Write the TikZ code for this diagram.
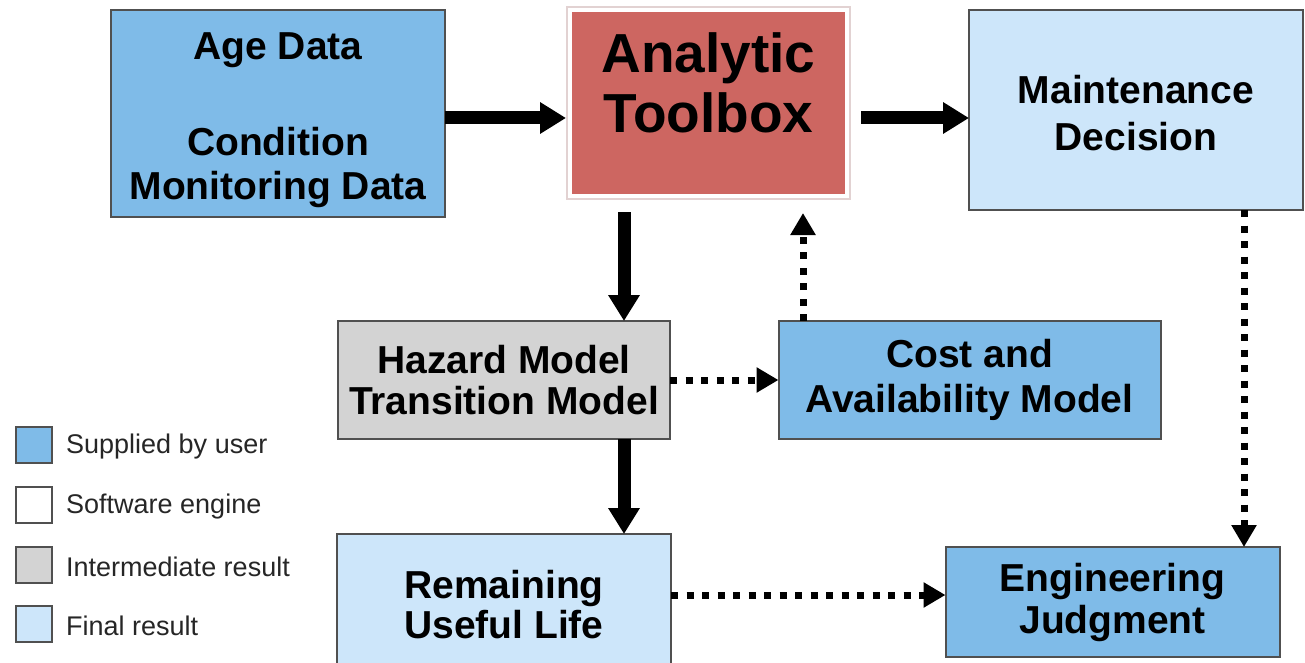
\documentclass[tikz,border=0pt]{standalone}
\usepackage{fontspec}
\setmainfont{Liberation Sans}
\usetikzlibrary{arrows.meta}

\definecolor{userblue}{HTML}{7FBBE8}
\definecolor{finalblue}{HTML}{CDE6FA}
\definecolor{midgray}{HTML}{D3D3D3}
\definecolor{toolred}{HTML}{CD6661}
\definecolor{edgegray}{HTML}{505050}
\definecolor{haloedge}{HTML}{E2D2D2}

\tikzset{
  box/.style={draw=edgegray, line width=2pt, inner sep=0pt, outer sep=0pt,
    align=center, font=\fontsize{39}{44}\selectfont\bfseries},
  userbox/.style={box, fill=userblue},
  finalbox/.style={box, fill=finalblue},
  interbox/.style={box, fill=midgray},
  toolbox/.style={fill=toolred, draw=white, line width=4pt,
    preaction={draw=haloedge, line width=8pt},
    inner sep=0pt, outer sep=4pt, align=center,
    font=\fontsize{55}{60}\selectfont\bfseries},
  solidarrow/.style={line width=13pt,
    -{Triangle[length=26pt,width=30pt]}},
  dottedarrow/.style={line width=7pt, dash pattern=on 7pt off 8.5pt,
    -{Triangle[length=22pt,width=24pt]}},
  keybox/.style={draw=edgegray, line width=2pt, minimum width=36pt,
    minimum height=36pt, inner sep=0pt},
  keytext/.style={anchor=west, inner sep=0pt, text=black!85,
    font=\fontsize{27}{30}\selectfont},
}

\begin{document}
\begin{tikzpicture}[x=1pt, y=-1pt]
  \useasboundingbox (0,0) rectangle (1305,663);
  \fill[white] (0,0) rectangle (1305,663);

  % main blocks
  \node[userbox, minimum width=334pt, minimum height=206pt, text height=181pt]
    (age) at (278,113.5) {Age Data\\[52pt]Condition\\Monitoring Data};
  \node[toolbox, minimum width=277pt, minimum height=186pt, text depth=40pt]
    (tool) at (708.5,103) {Analytic\\Toolbox};
  \node[finalbox, minimum width=334pt, minimum height=200pt, text height=81pt]
    (maint) at (1136,110) {Maintenance\\[3pt]Decision};
  \node[interbox, minimum width=332pt, minimum height=118pt] (hazard) at (504,380)
    {Hazard Model\\[-3pt]Transition Model};
  \node[userbox, minimum width=382pt, minimum height=118pt] (cost) at (969.5,380)
    {Cost and\\[1pt]Availability Model};
  \node[finalbox, minimum width=334pt, minimum height=150pt, text depth=10pt]
    (rul) at (504,609) {Remaining\\[-4pt]Useful Life};
  \node[userbox, minimum width=334pt, minimum height=110pt] (eng) at (1112.5,602)
    {Engineering\\[-2pt]Judgment};

  % solid flows
  \draw[solidarrow] (age.east |- 0,118) -- (tool.west |- 0,118);
  \draw[solidarrow, shorten <=10pt] (tool.east |- 0,118) -- (maint.west |- 0,118);
  \draw[solidarrow, shorten <=12pt] (tool.south -| 624,0) -- (hazard.north -| 624,0);
  \draw[solidarrow] (hazard.south -| 624,0) -- (rul.north -| 624,0);

  % dotted flows
  \draw[dottedarrow] (hazard.east |- 0,380) -- (cost.west |- 0,380);
  \draw[dottedarrow, shorten >=13pt] (cost.north -| 803,0) -- (tool.south -| 803,0);
  \draw[dottedarrow] (maint.south -| 1244,0) -- (eng.north -| 1244,0);
  \draw[dottedarrow] (rul.east |- 0,595) -- (eng.west |- 0,595);

  % key
  \node[keybox, fill=userblue]  (k1) at (33.5,445) {};
  \node[keybox, fill=white]     (k2) at (33.5,505) {};
  \node[keybox, fill=midgray]   (k3) at (33.5,564.5) {};
  \node[keybox, fill=finalblue] (k4) at (33.5,624) {};
  \node[keytext] (t1) at (66,447) {Supplied by user};
  \node[keytext] (t2) at (66,507) {Software engine};
  \node[keytext] (t3) at (66,567) {Intermediate result};
  \node[keytext] (t4) at (66,626) {Final result};
\end{tikzpicture}
\end{document}
